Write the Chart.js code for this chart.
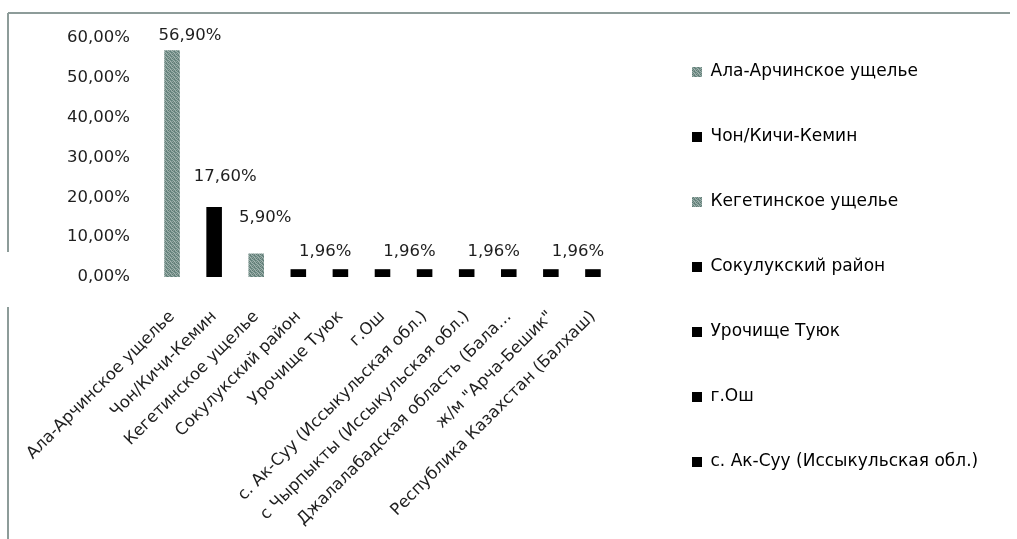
<!DOCTYPE html>
<html>
<head>
<meta charset="utf-8">
<script src="https://cdn.jsdelivr.net/npm/chart.js@4.4.1/dist/chart.umd.min.js"></script>
<style>
  html, body { margin: 0; padding: 0; background: #ffffff; }
  #wrap { position: relative; width: 1017px; height: 539px; }
  canvas { display: block; }
</style>
</head>
<body>
<div id="wrap"><canvas id="chart" width="1017" height="539"></canvas></div>
<script>
// Places where the samples were collected
const categories = [
  'Ала-Арчинское ущелье',
  'Чон/Кичи-Кемин',
  'Кегетинское ущелье',
  'Сокулукский район',
  'Урочище Туюк',
  'г.Ош',
  'с. Ак-Суу (Иссыкульская обл.)',
  'с Чырпыкты (Иссыкульская обл.)',
  'Джалалабадская область (Бала…',
  'ж/м "Арча-Бешик"',
  'Республика Казахстан (Балхаш)'
];

// Share of samples per place, %
const shares = [56.90, 17.60, 5.90, 1.96, 1.96, 1.96, 1.96, 1.96, 1.96, 1.96, 1.96];

// Bars that carry a value label
const labelledBars = [0, 1, 2, 3, 5, 7, 9];

// Value axis range and step, %
const yMin = 0;
const yMax = 60;
const yStep = 10;

// How many places fit into the legend column
const legendEntries = 7;

// ---- styling ----
const FONT = 'DejaVu Sans';
const TEXT = '#1e1e1e';

// Speckled grey-green fill used for the textured bars
function speckle() {
  const c = document.createElement('canvas');
  c.width = 4; c.height = 4;
  const g = c.getContext('2d');
  const tile = [
    '#6f8c86', '#9fb2ad', '#7d9791', '#5f7c76',
    '#8ea59f', '#657f79', '#a9bab5', '#7a938d',
    '#5b7771', '#8aa19b', '#6c8781', '#9db0ab',
    '#a0b3ae', '#718c86', '#5e7a74', '#88a09a'
  ];
  tile.forEach((col, k) => { g.fillStyle = col; g.fillRect(k % 4, Math.floor(k / 4), 1, 1); });
  return g.createPattern(c, 'repeat');
}
const textured = speckle();
const fills = categories.map((_, i) => (i === 0 || i === 2) ? textured : '#000000');

// Offsets of the value labels from the top centre of their bars
const labelShift = {0: [18, -15], 1: [11, -30], 2: [9, -36], 3: [27, -17], 5: [27, -17], 7: [27, -17], 9: [27, -17]};

const pct = v => v.toFixed(2).replace('.', ',') + '%';

// Value labels above the bars
const valueLabels = {
  id: 'valueLabels',
  afterDatasetsDraw(chart) {
    const ctx = chart.ctx;
    const meta = chart.getDatasetMeta(0);
    ctx.save();
    ctx.font = '16.5px "' + FONT + '"';
    ctx.fillStyle = TEXT;
    ctx.textAlign = 'center';
    ctx.textBaseline = 'middle';
    labelledBars.forEach(i => {
      const bar = meta.data[i];
      const s = labelShift[i] || [0, -12];
      ctx.fillText(pct(shares[i]), bar.x + s[0], bar.y + s[1]);
    });
    ctx.restore();
  }
};

// Chart frame (left and top edges)
const frame = {
  id: 'frame',
  beforeDraw(chart) {
    const ctx = chart.ctx;
    ctx.save();
    ctx.strokeStyle = '#8d9c99';
    ctx.lineWidth = 2;
    ctx.beginPath();
    ctx.moveTo(8, 13); ctx.lineTo(1010, 13);
    ctx.moveTo(8, 13); ctx.lineTo(8, 252);
    ctx.moveTo(8, 307); ctx.lineTo(8, 539);
    ctx.stroke();
    ctx.restore();
  }
};

// Legend column keeps a fixed width
const legendWidth = {
  id: 'legendWidth',
  beforeLayout(chart) {
    const lg = chart.legend;
    if (lg && !lg._fixedWidth) {
      const fit = lg.fit;
      lg.fit = function () { fit.call(this); this.width = 373; };
      lg._fixedWidth = true;
    }
  }
};

// Blank scale used only to keep space between two layout boxes
const spacer = (position, axis, size) => ({
  position,
  axis,
  display: true,
  grid: { display: false },
  border: { display: false },
  ticks: { display: false },
  afterFit(s) { if (axis === 'x') s.height = size; else s.width = size; }
});

new Chart(document.getElementById('chart'), {
  type: 'bar',
  data: {
    labels: categories,
    datasets: [{
      data: shares,
      backgroundColor: fills,
      borderWidth: 0,
      barPercentage: 0.37,
      categoryPercentage: 1
    }]
  },
  options: {
    responsive: false,
    animation: false,
    devicePixelRatio: 1,
    layout: { padding: { top: 0, bottom: 5, left: 0, right: 0 } },
    scales: {
      x: {
        grid: { display: false },
        border: { display: false },
        ticks: {
          autoSkip: false,
          maxRotation: 45,
          minRotation: 45,
          padding: 22,
          color: TEXT,
          font: { family: FONT, size: 16.5 }
        },
        afterFit(s) { s.height = 257; }
      },
      y: {
        min: yMin,
        max: yMax,
        grid: { display: false },
        border: { display: false },
        ticks: {
          stepSize: yStep,
          padding: 13,
          color: TEXT,
          font: { family: FONT, size: 16.5 },
          callback: v => pct(v)
        },
        afterFit(s) { s.width = 151; }
      },
      topGap: spacer('top', 'x', 38),
      rightGap: spacer('right', 'y', 30)
    },
    plugins: {
      tooltip: { enabled: false },
      legend: {
        position: 'right',
        labels: {
          padding: 48,
          boxWidth: 10,
          boxHeight: 10,
          color: TEXT,
          font: { family: FONT, size: 17 },
          generateLabels(chart) {
            return chart.data.labels.slice(0, legendEntries).map((text, i) => ({
              text,
              fillStyle: fills[i],
              strokeStyle: fills[i],
              lineWidth: 0,
              hidden: false,
              index: i
            }));
          }
        }
      }
    }
  },
  plugins: [legendWidth, frame, valueLabels]
});
</script>
</body>
</html>
